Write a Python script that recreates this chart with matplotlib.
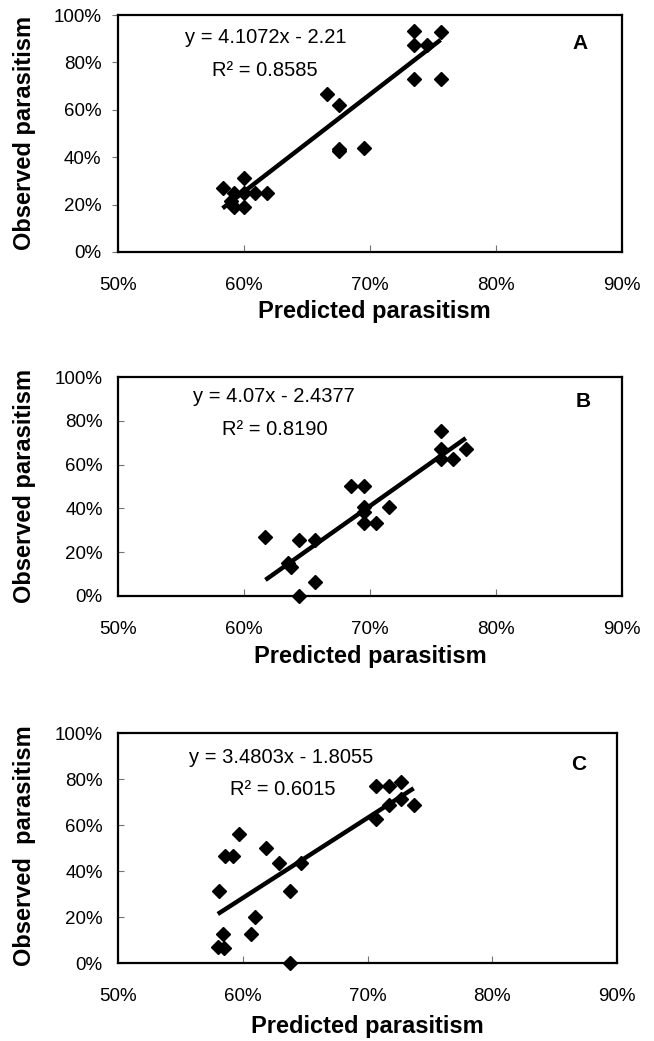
"""Observed vs predicted parasitism, three panels with linear fits."""
import numpy as np
from matplotlib import pyplot as plt
import matplotlib as mpl

mpl.rcParams["font.family"] = "sans-serif"
mpl.rcParams["font.sans-serif"] = ["Liberation Sans", "DejaVu Sans"]
mpl.rcParams["text.color"] = "black"

W, H = 654, 1041

# Panel A
a_pred = [0.735, 0.756, 0.735, 0.745, 0.735, 0.756, 0.666, 0.675, 0.675, 0.675,
          0.695, 0.600, 0.583, 0.592, 0.600, 0.609, 0.618, 0.592, 0.600, 0.590]
a_obs = [0.934, 0.930, 0.873, 0.873, 0.730, 0.730, 0.665, 0.622, 0.435, 0.427,
         0.438, 0.314, 0.269, 0.250, 0.250, 0.250, 0.250, 0.191, 0.189, 0.215]
a_fit = (4.1072, -2.21)
a_eq = "y = 4.1072x - 2.21"
a_r2 = "R² = 0.8585"

# Panel B
b_pred = [0.756, 0.756, 0.756, 0.766, 0.776, 0.685, 0.695, 0.695, 0.695, 0.695,
          0.705, 0.715, 0.617, 0.644, 0.656, 0.637, 0.635, 0.656, 0.644]
b_obs = [0.752, 0.670, 0.627, 0.627, 0.670, 0.502, 0.502, 0.408, 0.385, 0.335,
         0.335, 0.405, 0.271, 0.256, 0.256, 0.134, 0.149, 0.065, 0.0]
b_fit = (4.07, -2.4377)
b_eq = "y = 4.07x - 2.4377"
b_r2 = "R² = 0.8190"

# Panel C
c_pred = [0.707, 0.717, 0.727, 0.717, 0.727, 0.737, 0.707, 0.597, 0.586, 0.592,
          0.619, 0.629, 0.647, 0.581, 0.638, 0.610, 0.584, 0.607, 0.580, 0.585,
          0.638]
c_obs = [0.770, 0.770, 0.789, 0.686, 0.711, 0.686, 0.626, 0.561, 0.467, 0.467,
         0.499, 0.436, 0.436, 0.312, 0.312, 0.199, 0.126, 0.126, 0.068, 0.065,
         0.0]
c_fit = (3.4803, -1.8055)
c_eq = "y = 3.4803x - 1.8055"
c_r2 = "R² = 0.6015"

xticks = [0.5, 0.6, 0.7, 0.8, 0.9]
yticks = [0.0, 0.2, 0.4, 0.6, 0.8, 1.0]


def px(x, y):
    # pixel position -> figure fraction
    return x / W, 1 - y / H


fig = plt.figure(figsize=(W / 100, H / 100), dpi=100)

panels = [
    # data, fit, texts, letter, axes box (l, t, r, b px), ylabel, ytick dir, label pos
    (a_pred, a_obs, a_fit, a_eq, a_r2, "A", (118, 15, 622, 252),
     "Observed parasitism", "out", (0.553, 0.903), (0.575, 0.764), (0.867, 0.878),
     (374, 312), (25, 133)),
    (b_pred, b_obs, b_fit, b_eq, b_r2, "B", (118, 377, 622, 596),
     "Observed parasitism", "in", (0.5595, 0.909), (0.5825, 0.758), (0.869, 0.886),
     (370, 657), (25, 486)),
    (c_pred, c_obs, c_fit, c_eq, c_r2, "C", (118, 733, 617, 963),
     "Observed  parasitism", "in", (0.557, 0.895), (0.590, 0.756), (0.869, 0.861),
     (367, 1027), (25, 846)),
]

for (xp, yo, fit, eq, r2, letter, box, ylab, ydir,
     eq_pos, r2_pos, let_pos, xl_pos, yl_pos) in panels:
    l, t, r, b = box
    ax = fig.add_axes([l / W, 1 - b / H, (r - l) / W, (b - t) / H])
    ax.plot(xp, yo, linestyle="none", marker="D", markersize=7.2,
            color="black", clip_on=False, zorder=3)
    xs = np.array([min(xp), max(xp)])
    ax.plot(xs, fit[0] * xs + fit[1], color="black", linewidth=3.2,
            solid_capstyle="butt", zorder=2)

    ax.set_xlim(0.5, 0.9)
    ax.set_ylim(0, 1.0)
    ax.set_xticks(xticks)
    ax.set_yticks(yticks)
    ax.set_xticklabels(["{:.0f}%".format(v * 100) for v in xticks])
    ax.set_yticklabels(["{:.0f}%".format(v * 100) for v in yticks])
    ax.tick_params(axis="x", direction="in", length=5, width=0.8,
                   color="0.45", pad=18, labelsize=13.5)
    ax.tick_params(axis="y", direction=ydir, length=4, width=0.8,
                   color="0.45", pad=8 if ydir == "out" else 11,
                   labelsize=13.5)
    ax.xaxis.tick_bottom()
    ax.yaxis.tick_left()
    for sp in ax.spines.values():
        sp.set_linewidth(1.6)

    ax.text(eq_pos[0], eq_pos[1], eq, fontsize=14.5, ha="left", va="center")
    ax.text(r2_pos[0], r2_pos[1], r2, fontsize=14.5, ha="left", va="center")
    ax.text(let_pos[0], let_pos[1], letter, fontsize=15, fontweight="bold",
            ha="center", va="center")

    fx, fy = px(*xl_pos)
    fig.text(fx, fy, "Predicted parasitism", fontsize=17, fontweight="bold",
             ha="center", va="center")
    fx, fy = px(*yl_pos)
    fig.text(fx, fy, ylab, fontsize=17, fontweight="bold", rotation=90,
             ha="center", va="center")

plt.savefig("out.png", dpi=100)
plt.close()
